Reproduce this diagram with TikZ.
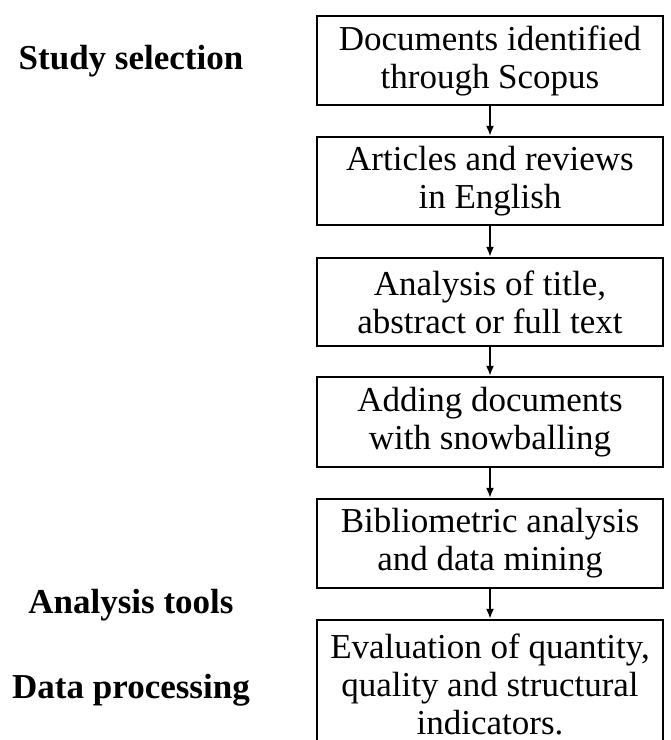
\documentclass[tikz,border=0pt]{standalone}
\usepackage{fontspec}
\setmainfont{Liberation Serif}
\usetikzlibrary{arrows.meta}
\begin{document}
\begin{tikzpicture}[x=1pt,y=-1pt,
  stepbox/.style={draw, line width=2.5pt, minimum width=346pt, align=center, inner sep=0pt, font=\fontsize{35}{38}\selectfont},
  lbl/.style={anchor=base, font=\fontsize{35}{38}\selectfont\bfseries},
  conn/.style={line width=1.6pt, -{Latex[length=10pt,width=8pt]}}]
\clip (0,0) rectangle (671,740);
\fill[white] (0,0) rectangle (671,740);
\node[stepbox, minimum height=89pt] (b1) at (490,60.5) {Documents identified\\through Scopus};
\node[stepbox, minimum height=88pt] (b2) at (490,181) {Articles and reviews\\in English};
\node[stepbox, minimum height=88pt] (b3) at (490,302) {Analysis of title,\\abstract or full text};
\node[stepbox, minimum height=90pt] (b4) at (490,422) {Adding documents\\with snowballing};
\node[stepbox, minimum height=89pt] (b5) at (490,543.5) {Bibliometric analysis\\and data mining};
\node[stepbox, minimum height=128pt] (b6) at (490,684) {Evaluation of quantity,\\quality and structural\\indicators.};
\draw[conn] (b1) -- (b2);
\draw[conn] (b2) -- (b3);
\draw[conn] (b3) -- (b4);
\draw[conn] (b4) -- (b5);
\draw[conn] (b5) -- (b6);
\node[lbl] (l1) at (131,69) {Study selection};
\node[lbl] (l2) at (131,613) {Analysis tools};
\node[lbl] (l3) at (131,698) {Data processing};
\end{tikzpicture}
\end{document}
